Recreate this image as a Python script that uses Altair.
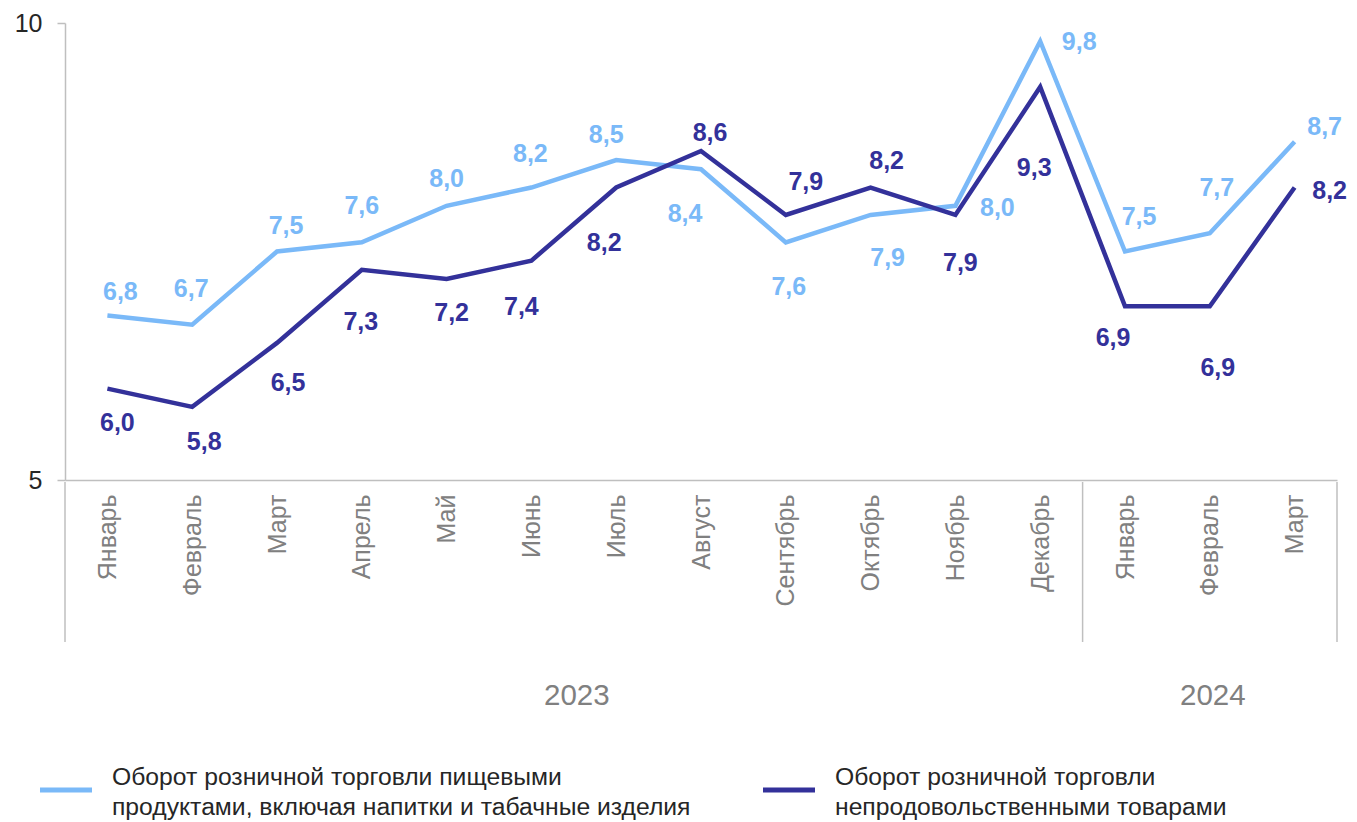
import json
import altair as alt
import pandas as pd

# ---------------- data ----------------
months = ["Январь", "Февраль", "Март", "Апрель", "Май", "Июнь", "Июль", "Август",
          "Сентябрь", "Октябрь", "Ноябрь", "Декабрь", "Январь", "Февраль", "Март"]
years = ["2023"] * 12 + ["2024"] * 3
food = [6.8, 6.7, 7.5, 7.6, 8.0, 8.2, 8.5, 8.4, 7.6, 7.9, 8.0, 9.8, 7.5, 7.7, 8.7]
nonfood = [6.0, 5.8, 6.5, 7.3, 7.2, 7.4, 8.2, 8.6, 7.9, 8.2, 7.9, 9.3, 6.9, 6.9, 8.2]
series_names = ["Пищевые продукты", "Непродовольственные товары"]
legend_lines = [
    ["Оборот розничной торговли пищевыми", "продуктами, включая напитки и табачные изделия"],
    ["Оборот розничной торговли", "непродовольственными товарами"],
]
y_ticks = [5, 10]

# label placement offsets in pixels (annotation layout)
food_label_dx = [13, -1, 9, 0, 0, -1, -10, -16, 3, 17, 42, 39, 14, 7, 30]
food_label_dy = [-23, -36, -26, -36, -27, -34, -25, 45, 45, 43, 2, 1, -35, -45, -15]
nonfood_label_dx = [10, 12, 11, -1, 5, -10, -12, 9, 20, 16, 5, -6, -12, 8, 35]
nonfood_label_dy = [34, 35, 40, 52, 34, 46, 55, -18, -33, -27, 48, 81, 32, 62, 3]

# ---------------- styles ----------------
FONT = "Liberation Sans"
C_FOOD = "#7AB9F8"
C_NON = "#33319A"
GRID = "#BFBFBF"
W, H = 1272, 457

rows = []
for i in range(len(months)):
    rows.append({"i": i, "v": food[i], "s": series_names[0]})
for i in range(len(months)):
    rows.append({"i": i, "v": nonfood[i], "s": series_names[1]})
df = pd.DataFrame(rows)

label_expr = json.dumps(months) + "[datum.value]"
xenc = alt.X(
    "i:Q",
    scale=alt.Scale(domain=[-0.5, len(months) - 0.5], nice=False, zero=False),
    axis=alt.Axis(values=list(range(len(months))), labelExpr=label_expr, labelAngle=270,
                  ticks=False, tickSize=0, labelPadding=14, grid=False, title="",
                  domainColor=GRID, domainWidth=1.5, labelFont=FONT, labelFontSize=25,
                  labelColor="#808080", labelAlign="right", labelBaseline="middle"),
)
yenc = alt.Y(
    "v:Q",
    scale=alt.Scale(domain=[5, 10], nice=False, zero=False),
    axis=alt.Axis(values=y_ticks, tickSize=8, tickColor=GRID, tickWidth=1.5, domainColor=GRID,
                  domainWidth=1.5, grid=False, title="", labelPadding=15, labelFont=FONT,
                  labelFontSize=25, labelColor="#262626"),
)

lines = alt.Chart(df).mark_line(strokeWidth=4.5).encode(
    x=xenc, y=yenc,
    color=alt.Color("s:N", scale=alt.Scale(domain=series_names, range=[C_FOOD, C_NON]), legend=None),
    detail="s:N",
)

layers = [lines]

def fmt(v):
    return f"{v:.1f}".replace(".", ",")

for vals, dxs, dys, col in [(food, food_label_dx, food_label_dy, C_FOOD),
                            (nonfood, nonfood_label_dx, nonfood_label_dy, C_NON)]:
    for i, v in enumerate(vals):
        d = pd.DataFrame([{"i": i, "v": v, "t": fmt(v)}])
        layers.append(
            alt.Chart(d).mark_text(dx=dxs[i], dy=dys[i], font=FONT, fontSize=25, fontWeight="bold",
                                   color=col, align="center", baseline="middle")
            .encode(x=xenc, y=yenc, text="t:N")
        )

# year separators
sep_positions = [-0.5]
for k in range(1, len(years)):
    if years[k] != years[k - 1]:
        sep_positions.append(k - 0.5)
sep_positions.append(len(years) - 0.5)
sep_df = pd.DataFrame({"i": sep_positions})
layers.append(
    alt.Chart(sep_df).mark_rule(color=GRID, strokeWidth=1.5).encode(
        x=xenc, y=alt.value(H + 2), y2=alt.value(H + 162))
)

# year labels
year_rows = []
for y in sorted(set(years)):
    idx = [k for k, yy in enumerate(years) if yy == y]
    year_rows.append({"i": (idx[0] - 0.5 + idx[-1] + 0.5) / 2, "t": y})
layers.append(
    alt.Chart(pd.DataFrame(year_rows)).mark_text(font=FONT, fontSize=29.5, color="#808080",
                                                 baseline="middle", align="center", dx=3)
    .encode(x=xenc, y=alt.value(673), text="t:N")
)

# legend
leg_x = [-25, 698]
for k, (col, ll) in enumerate(zip([C_FOOD, C_NON], legend_lines)):
    layers.append(
        alt.Chart(pd.DataFrame({"a": [0]})).mark_rule(color=col, strokeWidth=5).encode(
            x=alt.value(leg_x[k]), x2=alt.value(leg_x[k] + 52), y=alt.value(767))
    )
    for j, line in enumerate(ll):
        layers.append(
            alt.Chart(pd.DataFrame({"t": [line]})).mark_text(font=FONT, fontSize=24.7, color="#262626",
                                                             align="left", baseline="middle")
            .encode(x=alt.value(leg_x[k] + 72), y=alt.value(755 + 30 * j), text="t:N")
        )

chart = alt.layer(*layers).properties(
    width=W, height=H,
    autosize=alt.AutoSizeParams(type="none"),
    padding={"left": 57, "top": 15, "right": 12, "bottom": 342},
).configure_view(stroke=None)

chart.save("out.html", embed_options={"renderer": "svg", "actions": False})
